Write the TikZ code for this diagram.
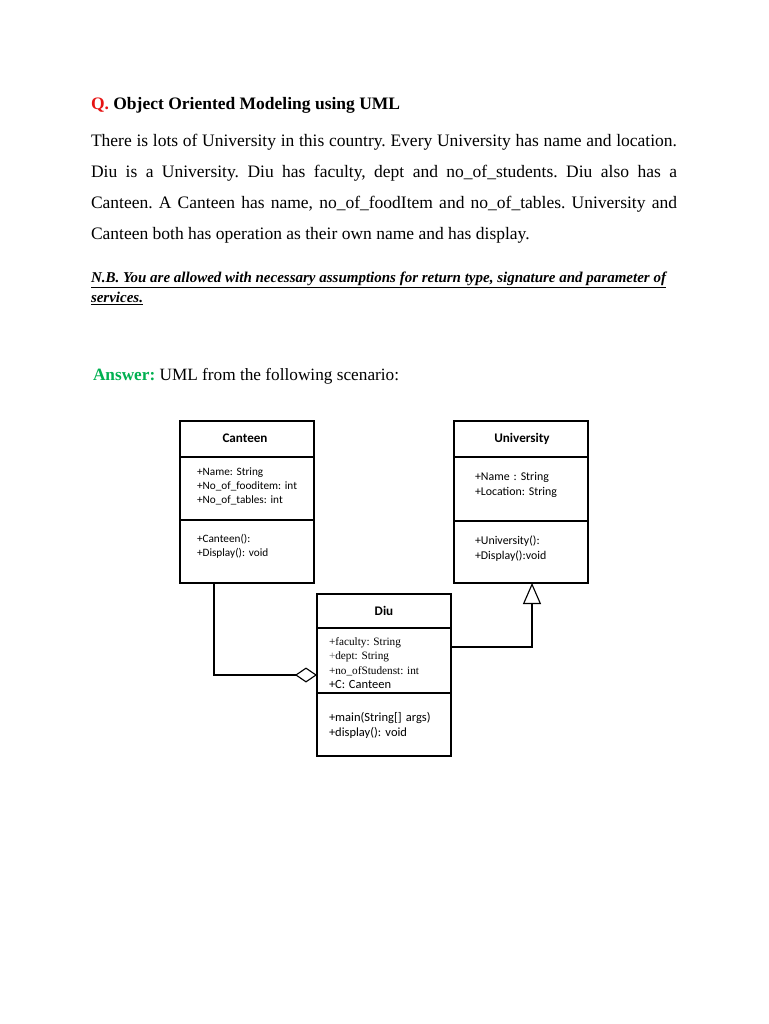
\documentclass[tikz,border=0pt]{standalone}
\usepackage{fontspec}
\setmainfont{Liberation Serif}
\newfontfamily\calibri{Carlito}
\usetikzlibrary{positioning}
\usetikzlibrary{calc}
\usetikzlibrary{arrows.meta}
\definecolor{qred}{RGB}{230,20,20}
\definecolor{ansgreen}{RGB}{0,176,80}
\frenchspacing

\begin{document}
\begin{tikzpicture}[x=0.8pt, y=-0.8pt,
                        every node/.style={inner sep=0pt, outer sep=0pt},
                        classbox/.style={draw, line width=0.9pt, minimum width=107.2pt, minimum height=129.6pt},
                        classname/.style={font=\calibri\bfseries\fontsize{10.5}{12}\selectfont},
                        members/.style={anchor=base west, text width=95pt, align=left, font=\calibri\fontsize{9}{11.2}\selectfont},
                        body/.style={anchor=base west, font=\fontsize{14}{24.8}\selectfont},
                        aggr/.style={line width=0.9pt, {Diamond[open, length=17.6pt, width=12pt]}-},
                        gen/.style={line width=0.9pt, -{Triangle[open, length=16.8pt, width=14.4pt]}}]
        \useasboundingbox (0,0) rectangle (768,1024);

        % question text
        \node[body, font=\bfseries\fontsize{14}{24.8}\selectfont] (title) at (91,110)
            {\textcolor{qred}{Q.} Object Oriented Modeling using UML};
        \node[body, text width=468.8pt, align=justify] (task) at (91,147)
            {There is lots of University in this country. Every University has name and location.\linebreak
             Diu is a University. Diu has faculty, dept and no\_of\_students. Diu also has a\linebreak
             Canteen. A Canteen has name, no\_of\_foodItem and no\_of\_tables. University and\linebreak
             Canteen both has operation as their own name and has display.};
        \node[body, font=\bfseries\itshape\fontsize{12}{14}\selectfont] (nb) at (91,282)
            {\underline{N.B. You are allowed with necessary assumptions for return type, signature and parameter of}};
        \node[body, font=\bfseries\itshape\fontsize{12}{14}\selectfont] (nb2) at (91,302)
            {\underline{services.}};
        \node[body, font=\fontsize{13.8}{24.8}\selectfont] (answer) at (93,380)
            {\textcolor{ansgreen}{\textbf{Answer:}} UML from the following scenario:};

        % class boxes
        \node[classbox] (canteen) at (247,502) {};
        \node[classbox] (university) at (521,502) {};
        \node[classbox] (diu) at (384,675) {};

        \draw[line width=0.9pt] ($(canteen.north west)+(0,36)$) -- ($(canteen.north east)+(0,36)$);
        \draw[line width=0.9pt] ($(canteen.north west)+(0,99)$) -- ($(canteen.north east)+(0,99)$);
        \draw[line width=0.9pt] ($(university.north west)+(0,36)$) -- ($(university.north east)+(0,36)$);
        \draw[line width=0.9pt] ($(university.north west)+(0,100)$) -- ($(university.north east)+(0,100)$);
        \draw[line width=0.9pt] ($(diu.north west)+(0,34)$) -- ($(diu.north east)+(0,34)$);
        \draw[line width=0.9pt] ($(diu.north west)+(0,99)$) -- ($(diu.north east)+(0,99)$);

        % Canteen
        \node[classname] (canteenName) at (245,438) {Canteen};
        \node[members] (canteenAttr) at (197,475)
            {+Name: String\\+No\_of\_fooditem: int\\+No\_of\_tables: int};
        \node[members] (canteenOps) at (197,542)
            {+Canteen():\\+Display(): void};

        % University
        \node[classname] (universityName) at (522,439) {University};
        \node[members, font=\calibri\fontsize{9.5}{12}\selectfont] (universityAttr) at (475,480)
            {+Name : String\\+Location: String};
        \node[members, font=\calibri\fontsize{9.5}{12}\selectfont] (universityOps) at (475,544)
            {+University():\\+Display():void};

        % Diu
        \node[classname] (diuName) at (384,611) {Diu};
        \node[members, font=\fontsize{9}{11.7}\selectfont] (diuAttr) at (329,645)
            {+faculty: String\\\textcolor{black!60}{+}dept: String\\+no\_ofStudenst: int\\{\calibri\fontsize{10}{11.7}\selectfont +C: Canteen}};
        \node[members, font=\calibri\fontsize{10}{12}\selectfont] (diuOps) at (329,721)
            {+main(String[] args)\\+display(): void};

        % relations
        \draw[aggr] (diu.west) -| ($(canteen.south)+(-33,0)$);
        \draw[gen] ($(diu.east)+(0,-28)$) -| ($(university.south)+(11,0)$);
    \end{tikzpicture}
\end{document}
